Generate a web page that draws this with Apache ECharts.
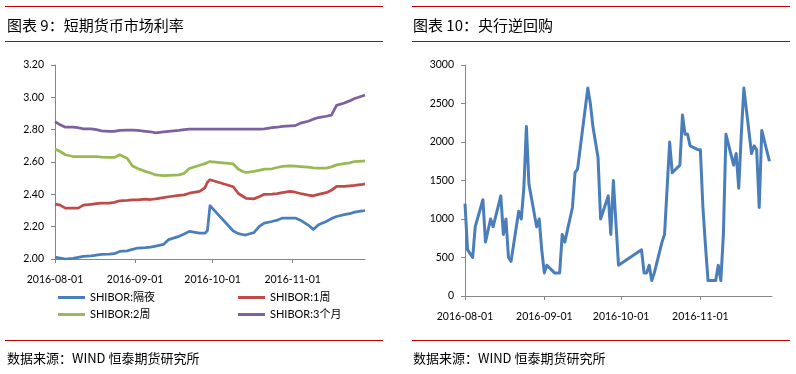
<!DOCTYPE html>
<html><head><meta charset="utf-8">
<script src="https://cdn.jsdelivr.net/npm/echarts@6/dist/echarts.min.js"></script>
<style>html,body{margin:0;padding:0;background:#fff}#c{width:796px;height:374px}</style>
</head><body><div id="c"></div>
<script>
const leftTitle = '图表 9：短期货币市场利率';
const rightTitle = '图表 10：央行逆回购';
const sourceText = '数据来源：WIND 恒泰期货研究所';
const monthTicks = ['2016-08-01', '2016-09-01', '2016-10-01', '2016-11-01'];
const seriesNames = ['SHIBOR:隔夜', 'SHIBOR:1周', 'SHIBOR:2周', 'SHIBOR:3个月'];
const seriesColors = ['#4A7EBB', '#BE4B48', '#98B954', '#7D60A0'];

const shiborDates = [
  '2016-08-01','2016-08-03','2016-08-05','2016-08-08','2016-08-10','2016-08-12','2016-08-15','2016-08-17','2016-08-19','2016-08-22','2016-08-24','2016-08-26','2016-08-29','2016-08-31',
  '2016-09-02','2016-09-05','2016-09-07','2016-09-09','2016-09-12','2016-09-14','2016-09-18','2016-09-20','2016-09-22','2016-09-26','2016-09-28','2016-09-29','2016-09-30',
  '2016-10-09','2016-10-11','2016-10-13','2016-10-14','2016-10-17','2016-10-19','2016-10-21','2016-10-24','2016-10-26','2016-10-28','2016-10-31',
  '2016-11-02','2016-11-04','2016-11-07','2016-11-09','2016-11-11','2016-11-14','2016-11-16','2016-11-18','2016-11-21','2016-11-23','2016-11-25','2016-11-28','2016-11-29'
];
const shiborON = [
  2.012,2.006,2.000,2.004,2.010,2.016,2.020,2.024,2.028,2.030,2.033,2.047,2.050,2.060,
  2.068,2.070,2.074,2.080,2.090,2.120,2.140,2.155,2.171,2.160,2.160,2.175,2.330,
  2.173,2.157,2.150,2.150,2.163,2.200,2.222,2.232,2.240,2.253,2.253,
  2.253,2.240,2.210,2.183,2.212,2.232,2.250,2.263,2.275,2.280,2.290,2.297,2.300
];
const shibor1W = [
  2.340,2.333,2.315,2.315,2.315,2.333,2.338,2.342,2.346,2.346,2.350,2.360,2.362,2.365,
  2.366,2.370,2.368,2.372,2.380,2.385,2.393,2.397,2.407,2.418,2.440,2.475,2.490,
  2.447,2.405,2.385,2.375,2.372,2.385,2.400,2.402,2.405,2.410,2.418,
  2.413,2.405,2.395,2.391,2.400,2.410,2.425,2.449,2.449,2.452,2.455,2.462,2.465
];
const shibor2W = [
  2.681,2.665,2.645,2.634,2.634,2.634,2.634,2.634,2.630,2.628,2.628,2.645,2.622,2.575,
  2.560,2.542,2.532,2.520,2.515,2.518,2.520,2.530,2.560,2.580,2.590,2.597,2.603,
  2.588,2.555,2.540,2.535,2.542,2.548,2.556,2.558,2.566,2.573,2.576,
  2.574,2.572,2.568,2.563,2.562,2.562,2.570,2.582,2.590,2.595,2.603,2.606,2.607
];
const shibor3M = [
  2.850,2.830,2.815,2.815,2.812,2.805,2.805,2.800,2.793,2.790,2.790,2.795,2.797,2.797,
  2.795,2.790,2.787,2.780,2.787,2.790,2.795,2.800,2.803,2.803,2.803,2.803,2.803,
  2.803,2.803,2.803,2.803,2.803,2.803,2.805,2.812,2.815,2.820,2.823,
  2.825,2.840,2.852,2.865,2.875,2.883,2.890,2.950,2.965,2.978,2.993,3.008,3.015
];

const repoDates = [
  '2016-08-01','2016-08-02','2016-08-03','2016-08-04','2016-08-05','2016-08-08','2016-08-09','2016-08-10','2016-08-11','2016-08-12','2016-08-15','2016-08-16','2016-08-17','2016-08-18','2016-08-19','2016-08-22','2016-08-23','2016-08-24','2016-08-25','2016-08-26','2016-08-29','2016-08-30','2016-08-31',
  '2016-09-01','2016-09-02','2016-09-05','2016-09-06','2016-09-07','2016-09-08','2016-09-09','2016-09-12','2016-09-13','2016-09-14','2016-09-18','2016-09-19','2016-09-20','2016-09-21','2016-09-22','2016-09-23','2016-09-26','2016-09-27','2016-09-28','2016-09-29','2016-09-30',
  '2016-10-09','2016-10-10','2016-10-11','2016-10-12','2016-10-13','2016-10-14','2016-10-17','2016-10-18','2016-10-19','2016-10-20','2016-10-21','2016-10-24','2016-10-25','2016-10-26','2016-10-27','2016-10-28','2016-10-31',
  '2016-11-01','2016-11-02','2016-11-03','2016-11-04','2016-11-07','2016-11-08','2016-11-09','2016-11-10','2016-11-11','2016-11-14','2016-11-15','2016-11-16','2016-11-17','2016-11-18','2016-11-21','2016-11-22','2016-11-23','2016-11-24','2016-11-25','2016-11-28'
];
const repoValues = [
  1200,600,550,500,900,1250,700,850,1000,900,1300,800,1000,500,450,1100,1000,1400,2200,1450,900,1000,600,
  300,400,300,300,300,800,700,1150,1600,1650,2700,2500,2200,2000,1800,1000,1300,800,1500,950,400,
  600,300,300,400,200,300,700,800,1400,2000,1600,1700,2350,2100,2100,1950,1900,
  1900,1150,650,200,200,400,200,800,2100,1700,1850,1400,2100,2700,1850,1950,1900,1150,2150,1750
];

const rateAxis = { min: 2.0, max: 3.2, interval: 0.2 };
const repoAxis = { min: 0, max: 3000, interval: 500 };
const dateRange = { start: '2016-08-01', end: '2016-11-29' };

// day number counted from the first date of the range (time scale expressed in days)
const DAY = 86400000;
function toTs(s) { const p = s.split('-').map(Number); return Date.UTC(p[0], p[1] - 1, p[2]); }
function toDay(s) { return Math.round((toTs(s) - toTs(dateRange.start)) / DAY); }
const tickDays = monthTicks.map(toDay);
const latin = 'Lato, "Noto Sans CJK SC", sans-serif';
const cjk = '"Noto Sans CJK SC", sans-serif';
const axisGray = '#868686';

function xAxisFor(gi) {
  return {
    type: 'value', gridIndex: gi, min: 0, max: toDay(dateRange.end),
    axisLine: { show: true, onZero: false, lineStyle: { color: axisGray, width: 1 } },
    axisTick: { show: true, length: 4, customValues: tickDays, lineStyle: { color: axisGray } },
    axisLabel: {
      customValues: tickDays, margin: 15, color: '#000', fontSize: 10.5, fontFamily: latin,
      formatter: function (v) { const i = tickDays.indexOf(v); return i >= 0 ? monthTicks[i] : ''; }
    },
    splitLine: { show: false }
  };
}
function yAxisFor(gi, ax, fmt) {
  return {
    type: 'value', gridIndex: gi, min: ax.min, max: ax.max, interval: ax.interval,
    axisLine: { show: true, onZero: false, lineStyle: { color: axisGray, width: 1 } },
    axisTick: { show: true, length: 4, lineStyle: { color: axisGray } },
    axisLabel: { margin: 11, color: '#000', fontSize: 10.5, fontFamily: latin, formatter: fmt },
    splitLine: { show: false }
  };
}

const shiborSets = [shiborON, shibor1W, shibor2W, shibor3M];
const series = shiborSets.map(function (vals, k) {
  return {
    name: seriesNames[k], type: 'line', xAxisIndex: 0, yAxisIndex: 0,
    showSymbol: false, symbol: 'none', smooth: false,
    lineStyle: { width: 2.75, color: seriesColors[k], join: 'round' },
    itemStyle: { color: seriesColors[k] },
    data: shiborDates.map(function (d, i) { return [toDay(d), vals[i]]; })
  };
});
series.push({
  name: rightTitle, type: 'line', xAxisIndex: 1, yAxisIndex: 1,
  showSymbol: false, symbol: 'none',
  lineStyle: { width: 3, color: seriesColors[0], join: 'round' },
  itemStyle: { color: seriesColors[0] },
  data: repoDates.map(function (d, i) { return [toDay(d), repoValues[i]]; })
});

const legendPos = [[58, 292], [238, 292], [58, 309], [238, 309]];
const legends = seriesNames.map(function (n, k) {
  return {
    data: [n], left: legendPos[k][0], top: legendPos[k][1], padding: 0,
    icon: 'rect', itemWidth: 27, itemHeight: 3, itemGap: 0,
    textStyle: { fontSize: 11, fontFamily: latin, color: '#000' }
  };
});

function hline(x1, x2, y) {
  return { type: 'line', shape: { x1: x1, y1: y, x2: x2, y2: y }, style: { stroke: '#C00000', lineWidth: 1 }, silent: true };
}
function label(x, y, t, size) {
  return { type: 'text', x: x, y: y, style: { text: t, font: size + 'px ' + cjk, fill: '#000', align: 'left', verticalAlign: 'middle' }, silent: true };
}

const chart = echarts.init(document.getElementById('c'), null, { renderer: 'canvas' });
chart.setOption({
  animation: false,
  backgroundColor: '#fff',
  grid: [
    { left: 55, top: 65, width: 310, height: 194 },
    { left: 465, top: 65, width: 307, height: 231 }
  ],
  xAxis: [xAxisFor(0), xAxisFor(1)],
  yAxis: [
    yAxisFor(0, rateAxis, function (v) { return v.toFixed(2); }),
    yAxisFor(1, repoAxis, function (v) { return String(v); })
  ],
  legend: legends,
  series: series,
  graphic: [
    hline(5, 383, 6.5), hline(5, 383, 41.5), hline(5, 383, 340.5),
    hline(412, 790, 6.5), hline(412, 790, 41.5), hline(412, 790, 340.5),
    label(7, 25, leftTitle, 15), label(413, 25, rightTitle, 15),
    label(7, 358, sourceText, 13), label(413, 358, sourceText, 13)
  ]
});
</script></body></html>
